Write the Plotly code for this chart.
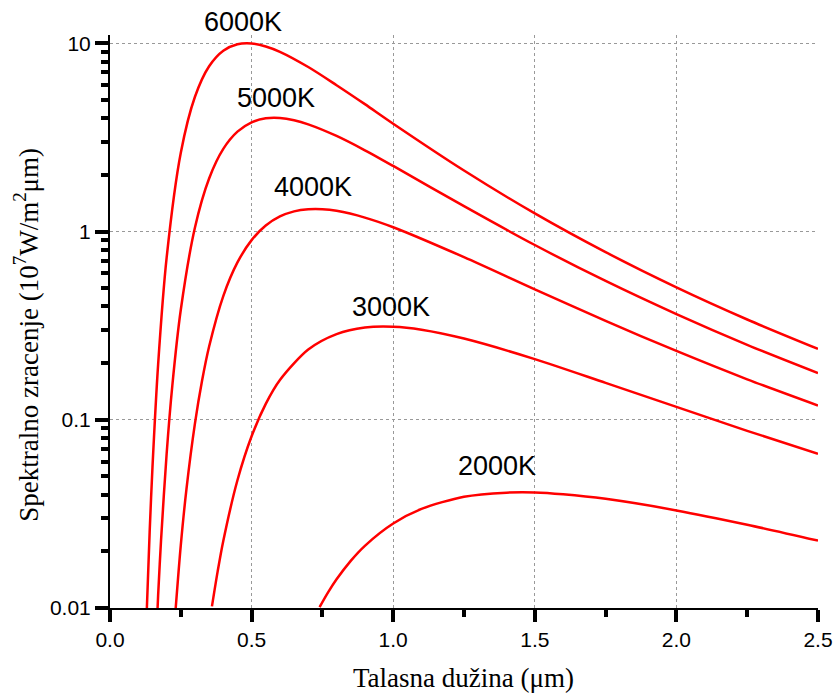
import plotly.graph_objects as go

# wavelength (um) and spectral emissive power (10^7 W/m^2 um)
x6000 = [0.13, 0.14, 0.15, 0.17, 0.2, 0.25, 0.3, 0.35, 0.4, 0.45, 0.5, 0.55, 0.6, 0.7, 0.8, 0.9, 1.0, 1.25, 1.5, 1.75, 2.0, 2.25, 2.5]
y6000 = [0.0098, 0.0253, 0.056, 0.197, 0.726, 2.62, 5.20, 7.55, 9.13, 9.88, 9.98, 9.62, 9.01, 7.48, 5.99, 4.75, 3.74, 2.11, 1.248, 0.777, 0.505, 0.341, 0.238]

x5000 = [0.168, 0.17, 0.18, 0.2, 0.22, 0.25, 0.3, 0.35, 0.4, 0.45, 0.5, 0.55, 0.6, 0.65, 0.7, 0.8, 0.9, 1.0, 1.25, 1.5, 1.75, 2.0, 2.25, 2.5]
y5000 = [0.0100, 0.0117, 0.0226, 0.066, 0.1515, 0.384, 1.051, 1.914, 2.747, 3.392, 3.804, 3.993, 4.010, 3.901, 3.709, 3.218, 2.701, 2.230, 1.363, 0.848, 0.546, 0.364, 0.250, 0.177]

x4000 = [0.232, 0.25, 0.27, 0.3, 0.325, 0.35, 0.4, 0.45, 0.5, 0.55, 0.6, 0.65, 0.7, 0.75, 0.8, 0.9, 1.0, 1.25, 1.5, 1.75, 2.0, 2.25, 2.5]
y4000 = [0.0100, 0.0216, 0.0428, 0.0956, 0.161, 0.245, 0.454, 0.685, 0.900, 1.076, 1.202, 1.279, 1.313, 1.314, 1.288, 1.186, 1.054, 0.731, 0.493, 0.335, 0.232, 0.164, 0.119]

x3000 = [0.36, 0.38, 0.4, 0.45, 0.5, 0.55, 0.6, 0.7, 0.8, 0.9, 1.0, 1.1, 1.25, 1.5, 1.75, 2.0, 2.25, 2.5]
y3000 = [0.0102, 0.0156, 0.0227, 0.0477, 0.0817, 0.1214, 0.1626, 0.236, 0.285, 0.309, 0.312, 0.301, 0.270, 0.210, 0.157, 0.117, 0.0873, 0.0660]

x2000 = [0.74, 0.77, 0.8, 0.85, 0.9, 1.0, 1.1, 1.25, 1.4, 1.5, 1.6, 1.75, 2.0, 2.25, 2.5]
y2000 = [0.0101, 0.0121, 0.0142, 0.0178, 0.0214, 0.0281, 0.0336, 0.0390, 0.0410, 0.0411, 0.0402, 0.0380, 0.0330, 0.0277, 0.0228]

series = [("6000K", x6000, y6000), ("5000K", x5000, y5000), ("4000K", x4000, y4000),
          ("3000K", x3000, y3000), ("2000K", x2000, y2000)]

x_tickvals = [0.0, 0.5, 1.0, 1.5, 2.0, 2.5]
x_ticktext = ["0.0", "0.5", "1.0", "1.5", "2.0", "2.5"]
y_tickvals = [0.01, 0.1, 1, 10]
y_ticktext = ["0.01", "0.1", "1", "10"]

x_title = "Talasna dužina (μm)"
y_title = "Spektralno zracenje (10<sup>7</sup>W/m<sup>2</sup>μm)"

# label positions (paper coordinates)
label_pos = {"6000K": (0.188, 1.023), "5000K": (0.235, 0.890), "4000K": (0.287, 0.735),
             "3000K": (0.397, 0.526), "2000K": (0.547, 0.247)}

TICK_COLOR = "black"

fig = go.Figure()
for name, xs, ys in series:
    fig.add_trace(go.Scatter(x=xs, y=ys, mode="lines", name=name,
                             line=dict(color="#ff0000", width=2.5, shape="spline", smoothing=0.8),
                             showlegend=False, cliponaxis=True))

for name, (px, py) in label_pos.items():
    fig.add_annotation(text=name, x=px, y=py, xref="paper", yref="paper",
                       showarrow=False, xanchor="center", yanchor="middle",
                       font=dict(family="Liberation Sans, Arial", size=27, color="black"))

fig.add_annotation(text=y_title, x=0, y=0.477, xref="paper", yref="paper", xshift=-84,
                   textangle=-90, showarrow=False, xanchor="center", yanchor="middle",
                   font=dict(family="Liberation Serif, Times New Roman", size=27, color="black"))
fig.add_annotation(text=x_title, x=0.4986, y=-0.122, xref="paper", yref="paper",
                   showarrow=False, xanchor="center", yanchor="middle",
                   font=dict(family="Liberation Serif, Times New Roman", size=27, color="black"))

fig.update_xaxes(range=[0, 2.5], tickmode="array", tickvals=x_tickvals, ticktext=x_ticktext,
                 showline=True, linecolor="black", linewidth=2, automargin=False,
                 ticks="outside", ticklen=12, tickwidth=4, tickcolor=TICK_COLOR,
                 tickfont=dict(family="Liberation Sans, Arial", size=21, color="black"),
                 showgrid=True, gridcolor="#999999", griddash="dot", gridwidth=1.3,
                 zeroline=False,
                 minor=dict(dtick=0.25, tick0=0, ticks="outside", ticklen=7, tickwidth=4,
                            tickcolor=TICK_COLOR, showgrid=False))
fig.update_yaxes(type="log", range=[-2, 1.044], tickmode="array", tickvals=y_tickvals, ticktext=y_ticktext,
                 showline=True, linecolor="black", linewidth=2, automargin=False,
                 ticks="outside", ticklen=13, tickwidth=4, tickcolor=TICK_COLOR,
                 tickfont=dict(family="Liberation Sans, Arial", size=21, color="black"),
                 showgrid=True, gridcolor="#999999", griddash="dot", gridwidth=1.3,
                 zeroline=False,
                 minor=dict(dtick="D1", ticks="outside", ticklen=7, tickwidth=4,
                            tickcolor=TICK_COLOR, showgrid=False))

fig.update_layout(template="none", width=834, height=694, margin=dict(l=110, r=16, t=35, b=86),
                  paper_bgcolor="white", plot_bgcolor="white")

fig.write_html("out.html")
